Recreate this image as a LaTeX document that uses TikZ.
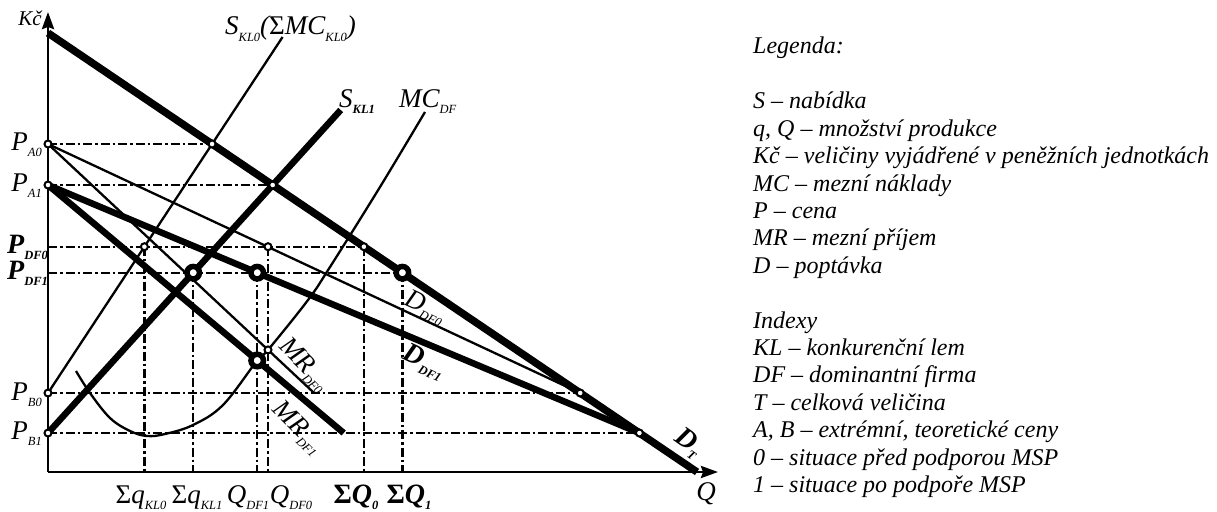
\documentclass[tikz,border=0pt]{standalone}
\usepackage{fontspec}
\setmainfont{Liberation Serif}
\usetikzlibrary{arrows.meta}
\newcommand\sbs[1]{\raisebox{-6pt}{\fontsize{12.5}{12.5}\selectfont #1}}
\begin{document}
\begin{tikzpicture}[x=1pt,y=-1pt,
  lab/.style={font=\fontsize{27}{27}\selectfont\itshape, inner sep=0pt},
  blab/.style={font=\fontsize{28}{28}\selectfont\itshape\bfseries, inner sep=0pt},
  leg/.style={font=\fontsize{24}{24}\selectfont\itshape, inner sep=0pt, anchor=base west},
  guide/.style={line width=2.3pt, dash pattern=on 9pt off 3pt on 2.5pt off 3pt},
  thinline/.style={line width=2.3pt},
  thickline/.style={line width=6.5pt},
  axisline/.style={line width=2.8pt, -{Stealth[length=17pt,width=12pt,inset=2pt]}},
  smalldot/.style={circle, draw, fill=white, line width=2pt, minimum size=7pt, inner sep=0pt},
  bigdot/.style={circle, draw, fill=white, line width=5.5pt, minimum size=12.5pt, inner sep=0pt},
]
\useasboundingbox (0,0) rectangle (1217,511);

% key coordinates
\coordinate (O) at (48,472);
\coordinate (Ytop) at (48,12);
\coordinate (Xend) at (718,472);
\coordinate (PA0) at (48,144);
\coordinate (PA1) at (48,185);
\coordinate (PDF0) at (48,246.7);
\coordinate (PDF1) at (48,272.7);
\coordinate (PB0) at (48,393);
\coordinate (PB1) at (48,433);
\coordinate (DTs) at (48,33);
\coordinate (DTe) at (697,472);
\coordinate (TA0) at (212.1,144);
\coordinate (TA1) at (272.7,185);
\coordinate (TDF0) at (363.9,246.7);
\coordinate (TDF1) at (402.4,272.7);
\coordinate (TB0) at (580.2,393);
\coordinate (TB1) at (639.4,433);
\coordinate (K0) at (144.4,246.7);
\coordinate (K1) at (193.2,272.7);
\coordinate (F1) at (257.2,272.7);
\coordinate (F0) at (268,246.7);
\coordinate (M1) at (257.2,360.5);
\coordinate (M0) at (268,349.9);
\coordinate (MR0e) at (314.1,393);
\coordinate (MR1e) at (343.7,433);
\coordinate (S0e) at (282.6,37);
\coordinate (S1e) at (340.7,110);
\foreach \n/\x in {xK0/144.4, xK1/193.2, xF1/257.2, xF0/268, xQ0/363.9, xQ1/402.4}
  \coordinate (\n) at (\x,472);

% guide lines
\draw[guide] (PA0) -- (TA0);
\draw[guide] (PA1) -- (TA1);
\draw[guide] (PDF0) -- (TDF0);
\draw[guide] (PDF1) -- (TDF1);
\draw[guide] (PB0) -- (TB0);
\draw[guide] (PB1) -- (TB1);
\draw[guide] (K0) -- (xK0);
\draw[guide] (K1) -- (xK1);
\draw[guide] (F1) -- (xF1);
\draw[guide] (F0) -- (xF0);
\draw[guide] (TDF0) -- (xQ0);
\draw[guide] (TDF1) -- (xQ1);

% axes
\draw[axisline] (O) -- (Ytop);
\draw[axisline] (O) -- (Xend);

% curves
\draw[thinline] plot[smooth, tension=0.6] coordinates {(76,371) (90,393) (110,418) (130,431) (147,436) (165,434) (193,425) (223,405) (257.2,360.5) (268,349.9) (308,300) (330,267) (380,187) (425,112)};
\draw[thinline] (PB0) -- (S0e);
\draw[thinline] (PA0) -- (TB0);
\draw[thinline] (PA0) -- (MR0e);
\draw[thickline] (PB1) -- (S1e);
\draw[thickline] (PA1) -- (TB1);
\draw[thickline] (PA1) -- (MR1e);
\draw[line width=7.5pt] (DTs) -- (DTe);

% points
\foreach \p in {PA0,PA1,PB0,PB1,TA0,TA1,TDF0,TB0,TB1,K0,F0,M0}
  \node[smalldot] (d\p) at (\p) {};
\foreach \p in {K1,F1,TDF1,M1}
  \node[bigdot] (d\p) at (\p) {};

% axis labels
\node[lab, font=\fontsize{21}{21}\selectfont\itshape, anchor=base] (lKc) at (30,26) {Kč};
\node[lab] (lQ) at (706,494) {Q};
\node[lab, anchor=base east] (lPA0) at (42,150) {P\sbs{A0}};
\node[lab, anchor=base east] (lPA1) at (42,191) {P\sbs{A1}};
\node[lab, anchor=base east] (lPB0) at (42,400) {P\sbs{B0}};
\node[lab, anchor=base east] (lPB1) at (42,439) {P\sbs{B1}};
\node[blab, anchor=base west] (lPDF0) at (7,253) {P\sbs{DF0}};
\node[blab, anchor=base west] (lPDF1) at (7,279) {P\sbs{DF1}};

\node[lab, anchor=base] (lqK0) at (141,503) {{\upshape Σ}q\sbs{KL0}};
\node[lab, anchor=base] (lqK1) at (197,503) {{\upshape Σ}q\sbs{KL1}};
\node[lab, anchor=base] (lQF1) at (248,503) {Q\sbs{DF1}};
\node[lab, anchor=base] (lQF0) at (291,503) {Q\sbs{DF0}};
\node[blab, anchor=base] (lQ0) at (356,503) {{\upshape Σ}Q\sbs{0}};
\node[blab, anchor=base] (lQ1) at (409,503) {{\upshape Σ}Q\sbs{1}};

% curve labels
\node[lab, anchor=base west] (lS0) at (225,35) {S\sbs{KL0}({\upshape Σ}MC\sbs{KL0})};
\node[lab, anchor=base west] (lS1) at (339,107) {S\sbs{\bfseries KL1}};
\node[lab, anchor=base west] (lMC) at (399,107) {MC\sbs{DF}};
\node[lab, rotate=-45] (lMR0) at (304,365) {MR\sbs{DF0}};
\node[lab, rotate=-45] (lMR1) at (298,428) {MR\sbs{DF1}};
\node[lab, rotate=-25] (lD0) at (425,308) {D\sbs{DF0}};
\node[blab, rotate=-25] (lD1) at (424,362) {D\sbs{DF1}};
\node[blab, rotate=-35] (lDT) at (688,443) {D\sbs{T}};

% legend
\foreach \yy/\t [count=\k] in {54/Legenda:, 108.8/S – nabídka, 136.2/{q, Q – množství produkce},
  163.6/Kč – veličiny vyjádřené v peněžních jednotkách, 191/MC – mezní náklady,
  218.4/P – cena, 245.8/MR – mezní příjem, 273.2/D – poptávka, 328/Indexy,
  355.4/KL – konkurenční lem, 382.8/DF – dominantní firma, 410.2/T – celková veličina,
  437.6/{A, B – extrémní, teoretické ceny}, 465/0 – situace před podporou MSP,
  492.4/1 – situace po podpoře MSP}
  \node[leg] (leg\k) at (753,\yy) {\t};
\end{tikzpicture}
\end{document}
